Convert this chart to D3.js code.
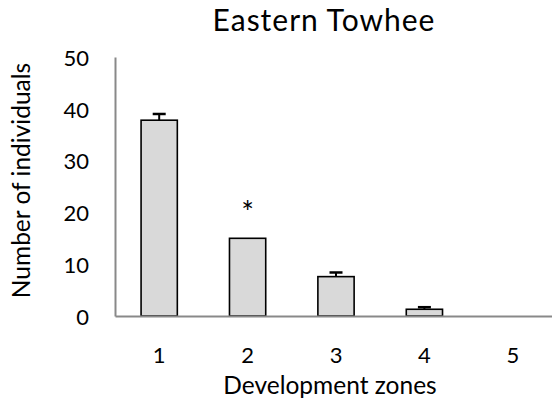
<!DOCTYPE html>
<html>
<head>
<meta charset="utf-8">
<script src="https://cdn.jsdelivr.net/npm/d3@7/dist/d3.min.js"></script>
<style>
  html, body { margin: 0; padding: 0; background: #fff; }
  svg { display: block; font-family: Lato, "Open Sans", sans-serif; }
</style>
</head>
<body>
<svg id="chart" width="552" height="408"></svg>
<script>
// Eastern Towhee counts per development zone
const zones = ["1", "2", "3", "4", "5"];
const counts = [37.8, 15, 7.6, 1.3, 0];
const errors = [1.2, 0, 0.8, 0.4, 0];
const marks = ["", "*", "", "", ""];
const yTicks = [0, 10, 20, 30, 40, 50];

const svg = d3.select("#chart");
const plotLeft = 115, plotRight = 557, plotTop = 57, plotBottom = 316;
const fontStack = "Lato, 'Open Sans', sans-serif";

const x = d3.scaleBand()
  .domain(zones)
  .range([plotLeft, plotRight])
  .paddingInner(0.59)
  .paddingOuter(0.295);

const y = d3.scaleLinear().domain([0, 50]).range([plotBottom, plotTop]);

const rows = zones.map((z, i) => ({ z, v: counts[i], e: errors[i], m: marks[i] }));

// title
svg.append("text")
  .attr("x", 324).attr("y", 31)
  .attr("text-anchor", "middle")
  .attr("font-size", 30)
  .attr("letter-spacing", 1)
  .attr("fill", "#000")
  .text("Eastern Towhee");

// y axis labels (no tick marks)
const yAxis = svg.append("g")
  .attr("transform", `translate(${plotLeft},0)`)
  .call(d3.axisLeft(y).tickValues(yTicks).tickSize(0).tickPadding(26));
yAxis.select(".domain").attr("stroke", "#898989").attr("stroke-width", 2);
yAxis.selectAll("text").attr("font-size", 22).attr("fill", "#000")
  .attr("font-family", fontStack).attr("dy", "0.38em");

// bars
svg.append("g").selectAll("rect")
  .data(rows.filter(d => d.v > 0))
  .join("rect")
  .attr("x", d => x(d.z))
  .attr("y", d => y(d.v))
  .attr("width", x.bandwidth())
  .attr("height", d => y(0) - y(d.v))
  .attr("fill", "#d9d9d9")
  .attr("stroke", "#000")
  .attr("stroke-width", 1.6);

// error bars (upper only)
const eb = svg.append("g").attr("stroke", "#000").attr("stroke-width", 2);
rows.filter(d => d.e > 0).forEach(d => {
  const cx = x(d.z) + x.bandwidth() / 2;
  eb.append("line")
    .attr("x1", cx).attr("x2", cx)
    .attr("y1", y(d.v)).attr("y2", y(d.v + d.e));
  eb.append("line")
    .attr("x1", cx - 6.5).attr("x2", cx + 6.5)
    .attr("y1", y(d.v + d.e)).attr("y2", y(d.v + d.e))
    .attr("stroke-width", 2.5);
});

// significance marks
svg.append("g").selectAll("text")
  .data(rows.filter(d => d.m))
  .join("text")
  .attr("x", d => x(d.z) + x.bandwidth() / 2)
  .attr("y", d => y(d.v) - 15)
  .attr("text-anchor", "middle")
  .attr("font-size", 30)
  .text(d => d.m);

// x axis
const xAxis = svg.append("g")
  .attr("transform", `translate(0,${plotBottom})`)
  .call(d3.axisBottom(x).tickSize(0).tickPadding(31));
xAxis.select(".domain").attr("stroke", "#898989").attr("stroke-width", 2);
xAxis.selectAll("text").attr("font-size", 22).attr("fill", "#000")
  .attr("font-family", fontStack);

// axis titles
svg.append("text")
  .attr("x", 330).attr("y", 394)
  .attr("text-anchor", "middle")
  .attr("font-size", 24.5)
  .text("Development zones");

svg.append("text")
  .attr("transform", `translate(30,${(plotTop + plotBottom) / 2 - 6}) rotate(-90)`)
  .attr("text-anchor", "middle")
  .attr("font-size", 24.5)
  .text("Number of individuals");
</script>
</body>
</html>
